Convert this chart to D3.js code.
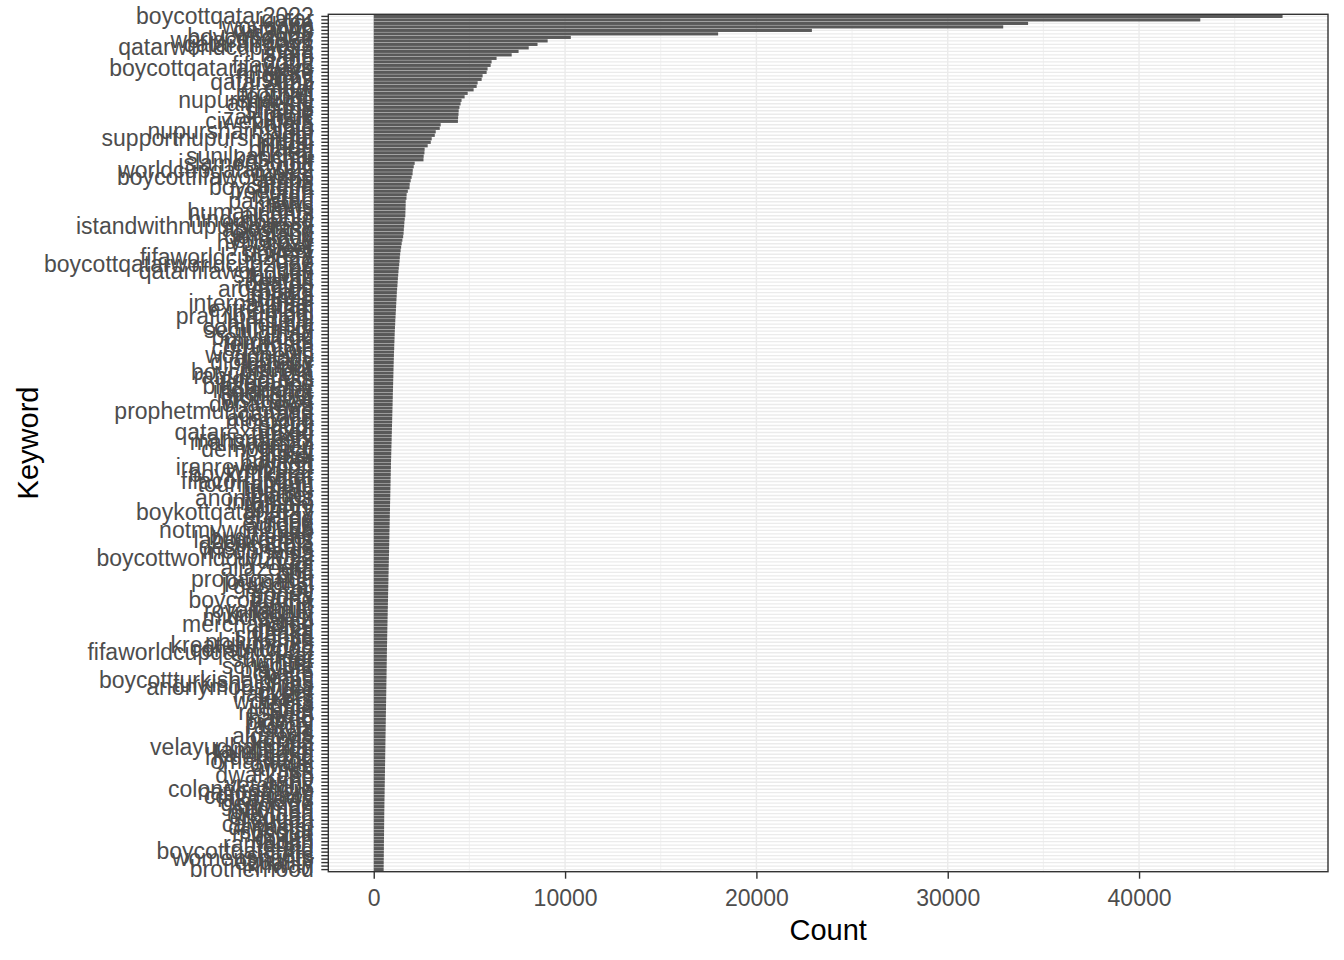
<!DOCTYPE html>
<html>

<head>
  <title>keyword counts</title>
  <script src="https://cdn.jsdelivr.net/npm/d3@7/dist/d3.min.js"></script>
  <style>
    body {
      margin: 0;
      background: white;
    }

    text {
      font-family: 'Liberation Sans', Arial, sans-serif;
    }

    .tick line {
      stroke: #333333;
      stroke-width: 1.4;
    }

    .tick text {
      fill: #4d4d4d;
      font-size: 23px;
    }

    .domain {
      display: none;
    }

    text.title {
      font-size: 29px;
      fill: black;
    }
  </style>
</head>

<body>
  <svg id="chart"></svg>
  <script>
    // keywords, top (largest) to bottom
    var keywords = [
      'boycottqatar2022', 'qatar', 'fifa', 'worldcup', 'qatarwc', 'wc2022', 'boycottqatar', 'worldcup2022', 'qatarairways', 'qatarworldcup2022',
      'india', 'islam', 'bjp', 'doha', 'fifa2022', 'boycottqatarairways', 'lgbtq', 'migrant', 'muslims', 'qatar2022',
      'hrw', 'modi', 'prophet', 'football', 'nupursharma', 'amnesty', 'hindus', 'shame', 'pride', 'zakirnaik',
      'ciwebinars', 'kafala', 'hijab', 'nupursharmabjp', 'lgbt', 'supportnupursharma', 'jindal', 'hindu', 'bharat', 'mea',
      'sunilpanchal', 'kashmir', 'islamophobia', 'gulf', 'worldcupqatar2022', 'messi', 'boycottfifaworldcup', 'arabs', 'sharia', 'boycottfifa',
      'freedom', 'riyadh', 'iran', 'pakistan', 'news', 'fans', 'humanrights', 'alcohol', 'hinduphobia', 'embassy',
      'istandwithnupursharma', 'apostasy', 'england', 'germany', 'onelove', 'hypocrisy', 'beer', 'protest', 'slavery', 'fifaworldcup2022',
      'uae', 'boycottqatarworldcup2022', 'gay', 'qatarfifaworldcup', 'stadium', 'kuwait', 'deaths', 'ronaldo', 'argentina', 'brazil',
      'media', 'france', 'international', 'taliban', 'extremism', 'mumbai', 'prafulpatelbjp', 'delhi', 'hindutva', 'community',
      'secularism', 'jihad', 'bollywood', 'migrants', 'terrorism', 'corruption', 'oic', 'worldnews', 'apology', 'diplomacy',
      'kanpur', 'tharoor', 'boycottindia', 'rahulgandhi', 'congress', 'tolerance', 'blasphemy', 'indiaqatar', 'sponsors', 'modigovt',
      'visitqatar', 'dohanews', 'usa', 'prophetmuhammad', 'canada', 'australia', 'morocco', 'saudi', 'egypt', 'qatarexposed',
      'turkey', 'iranprotests', 'mahsaamini', 'women', 'democracy', 'ticket', 'hotel', 'hacker', 'boycott', 'iranrevolution',
      'wm2022', 'boykottkatar', 'katar', 'fifacorruption', 'tournament', 'human', 'liberals', 'blatter', 'anonymous', 'infantino',
      'gianni', 'bribery', 'boykottqatar2022', 'energy', 'lng', 'europe', 'adidas', 'notmyworldcup', 'nike', 'budweiser',
      'labourrights', 'cocacola', 'desiliberals', 'mcdonalds', 'visa', 'boycottworldcup2022', 'hyundai', 'qf', 'aljazeera', 'bbc',
      'cnn', 'propaganda', 'journalist', 'gasdeal', 'oil', 'money', 'sports', 'boycottdoha', 'emir', 'tamim',
      'royalfamily', 'kingdom', 'middleeast', 'arab', 'merchandise', 'nepal', 'dhaka', 'srilanka', 'kenya', 'philippines',
      'kreatelymedia', 'construction', 'fifaworldcupqatar2022', 'heat', 'summer', 'winter', 'schedule', 'players', 'coach', 'team',
      'boycottturkishairlines', 'turkishairlines', 'anonymousindia', 'cyber', 'hackers', 'leaks', 'workers', 'rights', 'justice', 'respect',
      'hate', 'hatred', 'bigotry', 'radical', 'fatwa', 'isis', 'alqaeda', 'hamas', 'kerala', 'velayudhanpillai',
      'tamilnadu', 'karnataka', 'hyderabad', 'omarfaruk', 'owaisi', 'aimim', 'rss', 'dwarkesh', 'vhp', 'army',
      'veterans', 'colonelrathore', 'nationalism', 'conspiracy', 'fakenews', 'genocide', 'ummah', 'ottoman', 'mevlana', 'erdogan',
      'sultan', 'caliphate', 'drwasim', 'scholar', 'mosque', 'quran', 'hadith', 'ramadan', 'eid', 'boycottqatarfifa',
      'sisters', 'womensrights', 'equality', 'ikhwan', 'brotherhood'
    ];

    var counts = [
      47500, 43200, 34200, 32900, 22900, 18000, 10300, 9090, 8560, 8100,
      7570, 7210, 6420, 6160, 6110, 5950, 5900, 5690, 5640, 5430,
      5380, 5220, 4910, 4750, 4590, 4540, 4480, 4440, 4430, 4410,
      4400, 3500, 3450, 3240, 3190, 3030, 2980, 2820, 2660, 2650,
      2610, 2600, 2140, 2090, 2040, 2030, 1980, 1930, 1880, 1870,
      1780, 1720, 1710, 1670, 1668, 1662, 1655, 1651, 1620, 1601,
      1589, 1572, 1560, 1538, 1497, 1461, 1432, 1404, 1381, 1362,
      1349, 1331, 1309, 1293, 1278, 1262, 1249, 1238, 1221, 1207,
      1199, 1188, 1177, 1168, 1159, 1148, 1139, 1127, 1121, 1109,
      1101, 1094, 1088, 1081, 1073, 1069, 1060, 1054, 1049, 1043,
      1038, 1033, 1029, 1024, 1018, 1014, 1009, 1003, 998, 994,
      989, 985, 979, 974, 970, 964, 961, 954, 950, 946,
      939, 936, 931, 924, 921, 915, 911, 904, 901, 897,
      891, 889, 883, 879, 877, 871, 868, 863, 861, 855,
      851, 849, 843, 840, 837, 831, 829, 823, 820, 817,
      811, 809, 803, 801, 797, 791, 789, 783, 780, 777,
      771, 769, 764, 760, 757, 751, 749, 744, 740, 737,
      731, 729, 724, 720, 717, 711, 709, 704, 701, 698,
      693, 691, 687, 685, 683, 678, 676, 673, 670, 668,
      663, 661, 657, 655, 652, 649, 646, 642, 640, 637,
      633, 631, 628, 625, 623, 619, 616, 613, 610, 608,
      604, 601, 598, 596, 592, 589, 587, 583, 580, 578,
      574, 571, 569, 566, 562, 559, 557, 553, 550, 548,
      546, 544, 541, 540, 538, 536, 533, 532, 530, 528,
      526, 524, 521, 520, 518
    ];

    var xTicks = [0, 10000, 20000, 30000, 40000];
    var xMinorTicks = [5000, 15000, 25000, 35000, 45000];

    var data = keywords.map((k, i) => ({ keyword: k, count: counts[i] }));

    var margin = { top: 14.3, right: 16, bottom: 88.3, left: 328.3 };
    var width = 1344 - margin.left - margin.right,
      height = 960 - margin.top - margin.bottom;

    var max = d3.max(counts);
    var x = d3.scaleLinear()
      .domain([-0.05 * max, 1.05 * max])
      .range([0, width]);

    // ggplot-like discrete axis: bar width 0.9, 0.6 units of expansion
    var y = d3.scaleBand()
      .domain(keywords)
      .range([0, height])
      .paddingInner(0.1)
      .paddingOuter(0.15);

    var svg = d3.select('#chart')
      .attr('width', 1344)
      .attr('height', 960)
      .append('g')
      .attr('transform', 'translate(' + margin.left + ',' + margin.top + ')');

    // grid
    svg.append('g')
      .selectAll('line')
      .data(xMinorTicks.filter(d => d < x.domain()[1]))
      .enter()
      .append('line')
      .attr('x1', d => x(d))
      .attr('x2', d => x(d))
      .attr('y1', 0)
      .attr('y2', height)
      .style('stroke', '#ebebeb')
      .style('stroke-width', 0.7);

    svg.append('g')
      .selectAll('line')
      .data(xTicks)
      .enter()
      .append('line')
      .attr('x1', d => x(d))
      .attr('x2', d => x(d))
      .attr('y1', 0)
      .attr('y2', height)
      .style('stroke', '#ebebeb')
      .style('stroke-width', 1.4);

    svg.append('g')
      .selectAll('line')
      .data(keywords)
      .enter()
      .append('line')
      .attr('x1', 0)
      .attr('x2', width)
      .attr('y1', d => y(d) + y.bandwidth() / 2)
      .attr('y2', d => y(d) + y.bandwidth() / 2)
      .style('stroke', '#ebebeb')
      .style('stroke-width', 1.4);

    // bars
    svg.selectAll('rect.bar')
      .data(data)
      .enter()
      .append('rect')
      .attr('class', 'bar')
      .attr('x', x(0))
      .attr('y', d => y(d.keyword))
      .attr('width', d => x(d.count) - x(0))
      .attr('height', y.bandwidth())
      .style('fill', '#595959');

    // panel border
    svg.append('rect')
      .attr('width', width)
      .attr('height', height)
      .style('fill', 'none')
      .style('stroke', '#333333')
      .style('stroke-width', 1.4);

    var xAxis = d3.axisBottom()
      .scale(x)
      .tickValues(xTicks)
      .tickFormat(d3.format('d'))
      .tickSize(7)
      .tickPadding(11);

    var yAxis = d3.axisLeft()
      .scale(y)
      .tickSize(7)
      .tickPadding(7.5);

    svg.append('g')
      .attr('transform', 'translate(0,' + height + ')')
      .call(xAxis);

    svg.append('g')
      .call(yAxis);

    svg.append('text')
      .attr('class', 'title')
      .attr('x', width / 2)
      .attr('y', height + 68)
      .attr('text-anchor', 'middle')
      .text('Count');

    svg.append('text')
      .attr('class', 'title')
      .attr('transform', 'translate(' + (-290) + ',' + (height / 2) + ') rotate(-90)')
      .attr('text-anchor', 'middle')
      .text('Keyword');
  </script>
</body>

</html>
